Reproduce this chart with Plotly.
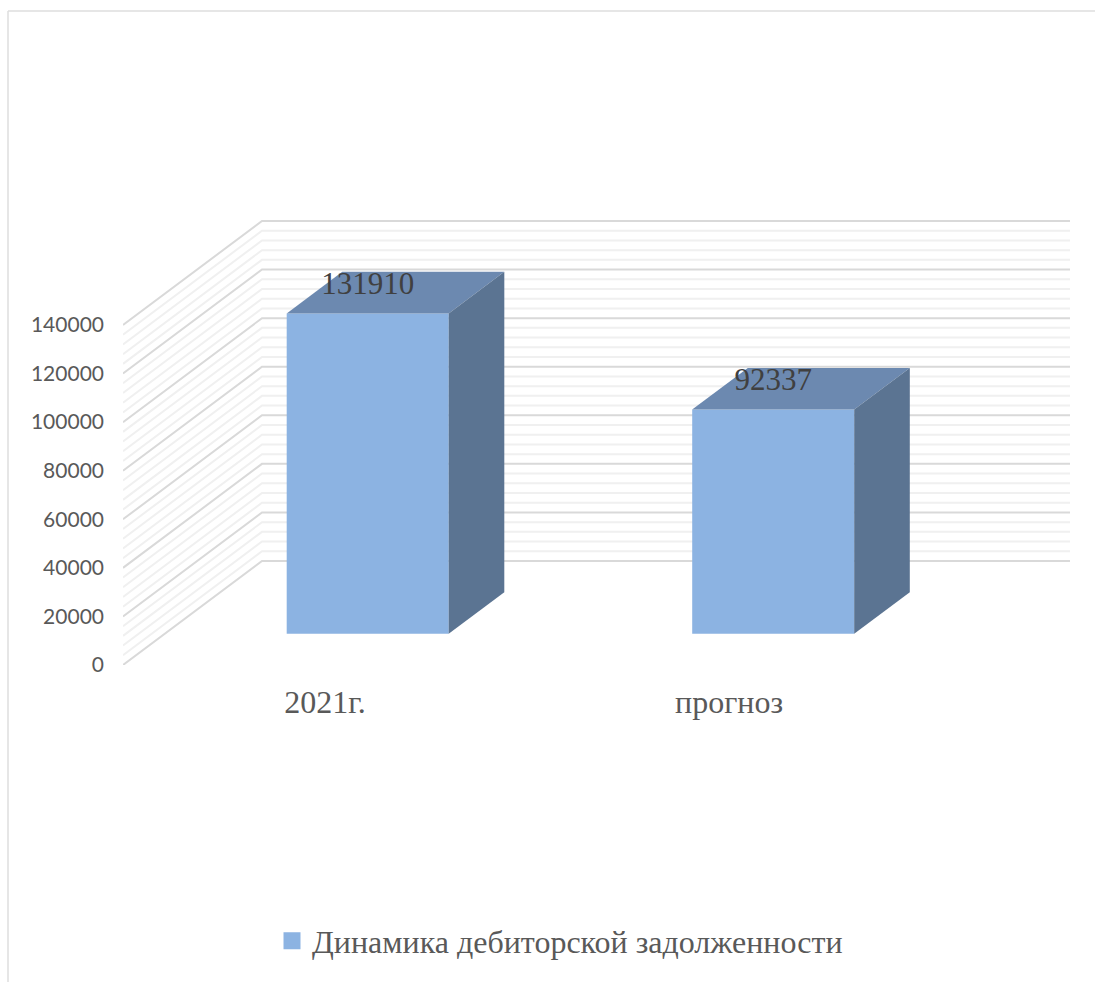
import plotly.graph_objects as go

categories = ["2021г.", "прогноз"]
values = [131910, 92337]
y_ticks = [0, 20000, 40000, 60000, 80000, 100000, 120000, 140000]
minor_per_major = 5
series_name = "Динамика дебиторской задолженности"

# Oblique projection of the chart box onto the axes' own units
PX_PER_CAT = 404.0
PX_PER_VAL = 340.0 / 140000
W, H = 1095, 982
LEFT, ZERO_Y = 123, 665
DEPTH_X = 139 / PX_PER_CAT      # x shift of the back wall, in categories
DEPTH_Y = 104 / PX_PER_VAL      # y shift of the back wall, in value units
BAR_D0, BAR_D1 = 0.30, 0.70     # depth of bar front and back
BAR_W = 162 / PX_PER_CAT
BAR_STEP = 405.5 / PX_PER_CAT
BAR_NUDGE = 1.0 / PX_PER_CAT


def proj(x, v, d):
    return x + d * DEPTH_X, v + d * DEPTH_Y


def poly(points):
    pts = [proj(*p) for p in points]
    pts.append(pts[0])
    return [p[0] for p in pts], [p[1] for p in pts]


FRONT, TOP, SIDE = "#8CB3E2", "#6C89B0", "#5B7492"
fig = go.Figure()

# walls: every gridline runs along the floor side, then along the back wall
shapes = []
step = y_ticks[1] / minor_per_major
n = int(y_ticks[-1] / step)
for i in range(n + 1):
    v = i * step
    major = i % minor_per_major == 0
    (x0, y0), (x1, y1) = proj(0, v, 0), proj(0, v, 1)
    (x2, y2) = proj(len(categories), v, 1)
    shapes.append(dict(
        type="path", layer="below", xref="x", yref="y",
        path=f"M{x0},{y0}L{x1},{y1}L{x2},{y2}",
        line=dict(color="#D9D9D9" if major else "#F0F0F0", width=2),
    ))

# chart frame
frame_left = (8 - LEFT) / (W - LEFT)
frame_top = (ZERO_Y - 11) / ZERO_Y
shapes.append(dict(type="line", xref="paper", yref="paper",
                   x0=frame_left, x1=1, y0=frame_top, y1=frame_top,
                   line=dict(color="#DEDEDE", width=1.5)))
shapes.append(dict(type="line", xref="paper", yref="paper",
                   x0=frame_left, x1=frame_left,
                   y0=(ZERO_Y - H) / ZERO_Y, y1=frame_top,
                   line=dict(color="#DEDEDE", width=1.5)))

ticks_x = [i + 0.5 for i in range(len(categories))]
centres = [0.5 + BAR_NUDGE + i * BAR_STEP for i in range(len(categories))]
base_v = BAR_D0 * DEPTH_Y
bar_x = [proj(c, 0, BAR_D0)[0] for c in centres]

# front faces
fig.add_trace(go.Bar(x=bar_x, y=values, base=[base_v] * len(values), width=BAR_W,
                     marker=dict(color=FRONT, line=dict(width=0)),
                     name=series_name, showlegend=False, legendgroup="s", hoverinfo="y"))
# legend entry of the series
fig.add_trace(go.Bar(x=[None], y=[None], name=series_name, legendgroup="s", showlegend=True,
                     marker=dict(color=FRONT, line=dict(color=FRONT, width=5))))

# top and side faces
for c, v in zip(centres, values):
    l, r = c - BAR_W / 2, c + BAR_W / 2
    xs, ys = poly([(l, v, BAR_D0), (l, v, BAR_D1), (r, v, BAR_D1), (r, v, BAR_D0)])
    fig.add_trace(go.Scatter(x=xs, y=ys, mode="lines", fill="toself", fillcolor=TOP,
                             line=dict(width=0), showlegend=False, hoverinfo="skip"))
    xs, ys = poly([(r, 0, BAR_D0), (r, v, BAR_D0), (r, v, BAR_D1), (r, 0, BAR_D1)])
    fig.add_trace(go.Scatter(x=xs, y=ys, mode="lines", fill="toself", fillcolor=SIDE,
                             line=dict(width=0), showlegend=False, hoverinfo="skip"))

# data labels, sitting over the top face
label_lift = 27 / PX_PER_VAL
fig.add_trace(go.Scatter(
    x=bar_x, y=[v + base_v + label_lift for v in values],
    text=[str(v) for v in values], mode="text", textposition="middle center",
    textfont=dict(family="Liberation Serif", size=31, color="#404040"),
    showlegend=False, hoverinfo="skip"))

fig.update_layout(
    width=W, height=H, autosize=False, barmode="overlay",
    margin=dict(l=LEFT, r=0, t=0, b=H - ZERO_Y, pad=0),
    paper_bgcolor="white", plot_bgcolor="white",
    shapes=shapes,
    showlegend=True,
    legend=dict(orientation="h", xanchor="left", yanchor="middle",
                x=(272 - LEFT) / (W - LEFT), y=(ZERO_Y - 941) / ZERO_Y,
                bgcolor="rgba(0,0,0,0)", itemwidth=30, itemclick=False, itemdoubleclick=False,
                font=dict(family="Liberation Serif", size=32, color="#595959")),
    xaxis=dict(range=[0, (W - LEFT) / PX_PER_CAT], tickmode="array", tickvals=ticks_x, ticktext=categories,
               showgrid=False, zeroline=False, showline=False, ticks="", ticklabelstandoff=15,
               tickfont=dict(family="Liberation Serif", size=32, color="#595959"), fixedrange=True),
    yaxis=dict(range=[0, ZERO_Y / PX_PER_VAL], tickmode="array", tickvals=y_ticks,
               ticktext=[str(t) for t in y_ticks],
               showgrid=False, zeroline=False, showline=False, ticks="", ticklabelstandoff=18,
               tickfont=dict(family="Lato", size=21, color="#595959"), fixedrange=True),
)

fig.write_html("out.html", config=dict(displayModeBar=False),
               post_script="document.body.style.margin='0';document.documentElement.style.overflow='hidden';")
